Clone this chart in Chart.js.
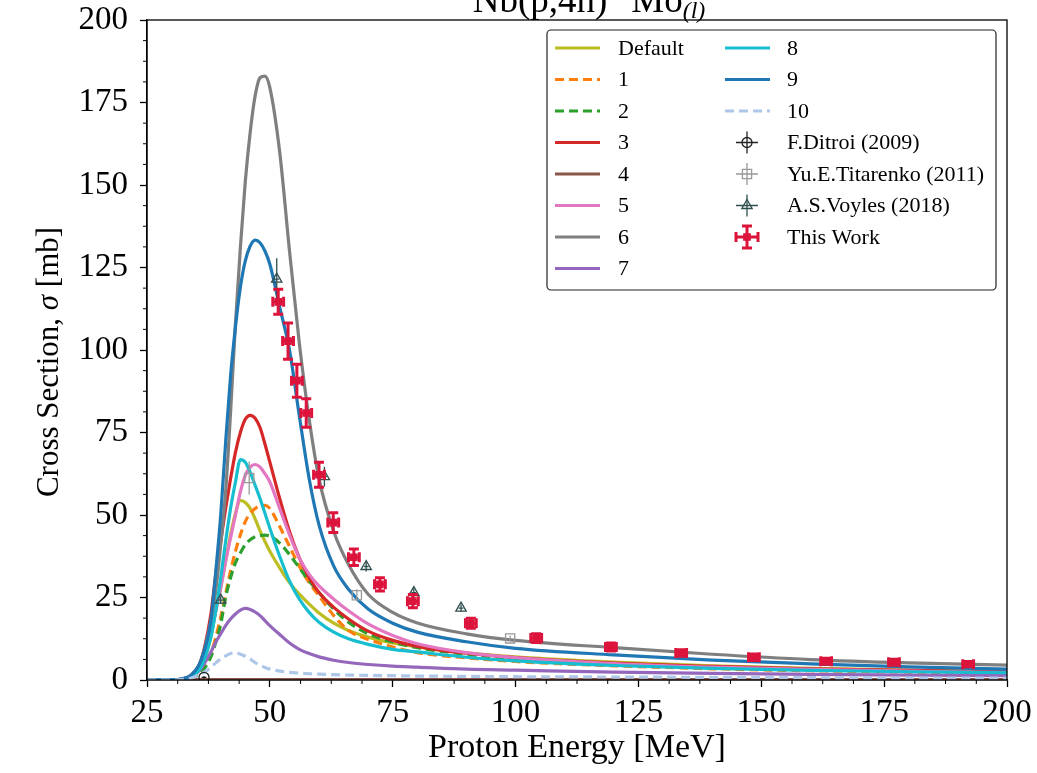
<!DOCTYPE html>
<html lang="en">
<head>
    <meta charset="UTF-8">
    <title>Nb(p,4n)Mo cross section</title>
    <script src="https://cdn.jsdelivr.net/npm/chart.js@4.4.0/dist/chart.umd.min.js"></script>
    <style>
        body { margin: 0; background: #fff; }
        canvas { display: block; }
    </style>
</head>
<body>
    <canvas id="canvas" width="1037" height="773"></canvas>
    <script>
        // energies (MeV) where the model curves are sampled
        const energy = [25, 30, 32, 34, 36, 38, 39, 40, 41, 42, 43, 44, 45, 46, 47, 48, 49, 50, 52, 54, 56, 58, 60, 63, 66, 70, 75, 80, 90, 100, 120, 140, 160, 180, 200];

        // model curves (mb)
        const curveDefault = [0, 0, 0.2, 1, 4, 13, 21, 28, 36, 44, 50.5, 54.4, 53.8, 52, 48.8, 45.2, 42, 39, 34, 29.5, 26, 23, 20.3, 17.2, 15, 13, 11.2, 10, 8.2, 7, 5.4, 4.3, 3.5, 3, 2.6];
        const curve1 = [0, 0, 0.1, 0.6, 2.5, 8, 13, 19, 26, 33, 39, 44, 48, 50.5, 52, 52.8, 52.9, 52, 46.5, 40.5, 34.5, 29.5, 25.5, 19.5, 15, 12.3, 10, 8.3, 6.7, 5.6, 4.3, 3.4, 2.8, 2.4, 2.1];
        const curve2 = [0, 0, 0.1, 0.6, 2.3, 7, 11.5, 17, 25, 31, 35.5, 38.5, 41, 42.5, 43.4, 43.8, 43.9, 43.6, 41.5, 38, 34, 30, 26.5, 21.5, 17.5, 14, 11.5, 9.8, 7.8, 6.5, 5, 3.9, 3.2, 2.7, 2.3];
        const curve3 = [0, 0, 0.3, 1.5, 6, 20, 32, 42, 52, 61, 69, 75, 79, 80.2, 79.3, 76.5, 71.5, 66, 55, 45, 37, 31, 26.5, 22, 18.5, 14.8, 12, 10.2, 8.1, 6.8, 5.1, 4.1, 3.4, 2.9, 2.5];
        const curve4 = [0, 0, 0.1, 0.1, 0.1, 0.1, 0.1, 0.1, 0.1, 0.1, 0.1, 0.1, 0.1, 0.1, 0.1, 0.1, 0.1, 0.1, 0.1, 0.1, 0.1, 0.1, 0.1, 0.1, 0.1, 0.1, 0.1, 0.1, 0.1, 0.1, 0.1, 0.1, 0.1, 0.1, 0.1];
        const curve5 = [0, 0, 0.2, 1, 4, 14, 21, 28, 36, 43, 50, 57, 62, 64.5, 65.3, 64.5, 62.5, 60, 52, 44, 37, 32, 28.5, 24.5, 21, 17, 13.5, 11, 8.3, 6.8, 5, 3.9, 3.2, 2.7, 2.3];
        const curve6 = [0, 0, 0.3, 1.5, 6, 18, 27, 41, 57, 81, 108, 131, 151, 166, 177, 182.5, 183, 179.5, 160, 130, 102, 79, 61, 45, 35, 26, 20.5, 17.3, 14, 12, 9.8, 7.8, 6.2, 5.2, 4.5];
        const curve7 = [0, 0, 0.1, 1, 3.5, 8.5, 11.5, 14, 16.5, 18.5, 20, 21.2, 21.7, 21.4, 20.6, 19.5, 18, 16.5, 13.8, 11.2, 9.3, 8, 7, 6, 5.3, 4.7, 4.2, 3.9, 3.3, 3, 2.4, 2, 1.7, 1.5, 1.3];
        const curve8 = [0, 0, 0.2, 1, 4, 13, 21, 31, 42, 52, 60, 66.8, 66, 63, 59, 55, 50.5, 46, 37.5, 30, 24.5, 20.5, 17.5, 14.5, 12.5, 10.8, 9.3, 8.5, 6.9, 5.8, 4.4, 3.5, 2.9, 2.5, 2.2];
        const curve9 = [0, 0, 0.3, 1.5, 6, 18, 33, 50, 72, 92, 107, 119, 127, 131.5, 133.3, 132.5, 130, 126, 113, 100, 80, 61, 47, 34.5, 27.5, 21.5, 17.2, 14.5, 11.6, 9.6, 7.6, 6, 4.9, 4, 3.3];
        const curve10 = [0, 0, 0.1, 0.6, 1.8, 3.8, 5.2, 6.4, 7.3, 8, 8.3, 7.8, 7.2, 6.3, 5.3, 4.5, 3.8, 3.3, 2.7, 2.3, 2.1, 1.9, 1.8, 1.6, 1.5, 1.4, 1.3, 1.2, 1.1, 1, 0.9, 0.8, 0.7, 0.6, 0.6];

        // experimental points: energy, energy error, cross section, cross section error
        const ditroiE = [36.6];
        const ditroiEErr = [0.5];
        const ditroiXS = [0.8];
        const ditroiErr = [0.4];

        const titarenkoE = [45.8, 67.7, 98.9];
        const titarenkoEErr = [0, 0, 0];
        const titarenkoXS = [61.2, 25.7, 12.6];
        const titarenkoErr = [5, 1.8, 0.9];

        const voylesE = [40.0, 51.4, 61.1, 69.6, 79.3, 88.9];
        const voylesEErr = [0.5, 0.5, 0.5, 0.5, 0.5, 0.5];
        const voylesXS = [24.2, 121.5, 61.6, 34.4, 26.5, 21.8];
        const voylesErr = [1.2, 6.3, 3, 1.5, 1.3, 1.1];

        const thisWorkE = [51.7, 53.7, 55.5, 57.4, 60.0, 62.9, 67.1, 72.4, 79.1, 90.9, 104.2, 119.4, 133.7, 148.5, 163.2, 177.0, 192.1];
        const thisWorkEErr = [1.1, 1.1, 1.1, 1.1, 1.1, 1.1, 1.1, 1.1, 1.1, 1.1, 1.1, 1.1, 1.1, 1.1, 1.1, 1.1, 1.1];
        const thisWorkXS = [114.6, 102.7, 90.7, 80.9, 62.2, 47.7, 37.2, 29.0, 23.9, 17.2, 12.7, 10.0, 8.2, 6.9, 5.7, 5.4, 4.8];
        const thisWorkErr = [3.8, 5.5, 5, 4.3, 3.8, 3, 2.5, 2, 2, 1.5, 1.3, 1.2, 1, 1, 0.9, 0.9, 0.8];

        const curveLabels = ['Default', '1', '2', '3', '4', '5', '6', '7', '8', '9', '10'];
        const curveData = [curveDefault, curve1, curve2, curve3, curve4, curve5, curve6, curve7, curve8, curve9, curve10];
        const curveColors = ['#bcbd22', '#ff7f0e', '#2ca02c', '#d62728', '#8c564b', '#e377c2', '#7f7f7f', '#9467bd', '#17becf', '#1f77b4', '#aec7e8'];
        const dashedCurves = ['1', '2', '10'];

        const SERIF = "'Liberation Serif', 'DejaVu Serif', serif";
        const LINE_W = 3.2;

        function toPoints(xs, ys) {
            return xs.map((x, i) => ({ x: x, y: ys[i] }));
        }

        let datasets = [];
        curveLabels.forEach(function (label, i) {
            datasets.push({
                label: label,
                data: toPoints(energy, curveData[i]),
                borderColor: curveColors[i],
                borderWidth: LINE_W,
                borderDash: dashedCurves.includes(label) ? [9, 5] : [],
                pointRadius: 0,
                fill: false,
                cubicInterpolationMode: 'monotone'
            });
        });

        const expSets = [
            { label: 'F.Ditroi (2009)', xs: ditroiE, xe: ditroiEErr, ys: ditroiXS, ye: ditroiErr, color: '#222222', style: 'circle', radius: 5, cap: 0, lw: 1.3, filled: false },
            { label: 'Yu.E.Titarenko (2011)', xs: titarenkoE, xe: titarenkoEErr, ys: titarenkoXS, ye: titarenkoErr, color: '#999999', style: 'rect', radius: 6.5, cap: 0, lw: 1.3, filled: false },
            { label: 'A.S.Voyles (2018)', xs: voylesE, xe: voylesEErr, ys: voylesXS, ye: voylesErr, color: '#2f4f4f', style: 'triangle', radius: 6, cap: 0, lw: 1.3, filled: false },
            { label: 'This Work', xs: thisWorkE, xe: thisWorkEErr, ys: thisWorkXS, ye: thisWorkErr, color: '#dc143c', style: 'rect', radius: 4.5, cap: 5, lw: 3, filled: true }
        ];
        expSets.forEach(function (s) {
            datasets.push({
                label: s.label,
                data: toPoints(s.xs, s.ys),
                showLine: false,
                borderColor: s.color,
                backgroundColor: s.filled ? s.color : 'rgba(0,0,0,0)',
                pointStyle: s.style,
                pointRadius: s.radius,
                pointBorderWidth: 1.3,
                errInfo: s
            });
        });
        // later datasets drawn on top, like matplotlib
        datasets.forEach((d, i) => d.order = datasets.length - i);

        function isMajor(v) {
            return Math.abs(v / 25 - Math.round(v / 25)) < 1e-6;
        }

        function drawErrBars(ctx, chart, s) {
            let xs = chart.scales.x, ys = chart.scales.y;
            ctx.save();
            ctx.strokeStyle = s.color;
            ctx.lineWidth = s.lw;
            for (let i = 0; i < s.xs.length; i++) {
                let px = xs.getPixelForValue(s.xs[i]);
                let py = ys.getPixelForValue(s.ys[i]);
                let y0 = ys.getPixelForValue(s.ys[i] - s.ye[i]);
                let y1 = ys.getPixelForValue(s.ys[i] + s.ye[i]);
                let x0 = xs.getPixelForValue(s.xs[i] - s.xe[i]);
                let x1 = xs.getPixelForValue(s.xs[i] + s.xe[i]);
                ctx.beginPath();
                ctx.moveTo(px, y0); ctx.lineTo(px, y1);
                ctx.moveTo(x0, py); ctx.lineTo(x1, py);
                if (s.cap > 0) {
                    ctx.moveTo(px - s.cap, y0); ctx.lineTo(px + s.cap, y0);
                    ctx.moveTo(px - s.cap, y1); ctx.lineTo(px + s.cap, y1);
                    ctx.moveTo(x0, py - s.cap); ctx.lineTo(x0, py + s.cap);
                    ctx.moveTo(x1, py - s.cap); ctx.lineTo(x1, py + s.cap);
                }
                ctx.stroke();
            }
            ctx.restore();
        }

        function legendMarker(ctx, s, x, y) {
            ctx.save();
            ctx.strokeStyle = s.color;
            ctx.lineWidth = s.lw;
            let h = 11, c = s.cap;
            ctx.beginPath();
            ctx.moveTo(x, y - h); ctx.lineTo(x, y + h);
            ctx.moveTo(x - h, y); ctx.lineTo(x + h, y);
            if (c > 0) {
                ctx.moveTo(x - c, y - h); ctx.lineTo(x + c, y - h);
                ctx.moveTo(x - c, y + h); ctx.lineTo(x + c, y + h);
                ctx.moveTo(x - h, y - c); ctx.lineTo(x - h, y + c);
                ctx.moveTo(x + h, y - c); ctx.lineTo(x + h, y + c);
            }
            ctx.stroke();
            ctx.fillStyle = s.filled ? s.color : 'rgba(0,0,0,0)';
            ctx.lineWidth = 1.3;
            Chart.helpers.drawPoint(ctx, { pointStyle: s.style, radius: s.radius, rotation: 0, borderWidth: 1.3 }, x, y);
            ctx.restore();
        }

        const overlay = {
            id: 'overlay',
            beforeDatasetDraw(chart, args) {
                let d = chart.data.datasets[args.index];
                if (d.errInfo) {
                    let ctx = chart.ctx, a = chart.chartArea;
                    ctx.save();
                    ctx.beginPath();
                    ctx.rect(a.left, a.top, a.right - a.left, a.bottom - a.top);
                    ctx.clip();
                    drawErrBars(ctx, chart, d.errInfo);
                    ctx.restore();
                }
            },
            afterDraw(chart) {
                let ctx = chart.ctx, a = chart.chartArea;
                let xs = chart.scales.x, ys = chart.scales.y;
                ctx.save();
                // frame
                ctx.strokeStyle = '#000';
                ctx.lineWidth = 1.3;
                ctx.strokeRect(a.left, a.top, a.right - a.left, a.bottom - a.top);
                // minor ticks
                ctx.lineWidth = 1;
                ctx.beginPath();
                for (let v = 25; v <= 200; v += 6.25) {
                    if (isMajor(v)) continue;
                    let p = xs.getPixelForValue(v);
                    ctx.moveTo(p, a.bottom); ctx.lineTo(p, a.bottom + 4);
                }
                for (let v = 0; v <= 200; v += 6.25) {
                    if (isMajor(v)) continue;
                    let p = ys.getPixelForValue(v);
                    ctx.moveTo(a.left, p); ctx.lineTo(a.left - 4, p);
                }
                ctx.stroke();

                // axis titles
                ctx.fillStyle = '#000';
                ctx.textAlign = 'center';
                ctx.textBaseline = 'middle';
                ctx.font = '34px ' + SERIF;
                ctx.fillText('Proton Energy [MeV]', (a.left + a.right) / 2, 748);

                ctx.save();
                ctx.translate(50, 362);
                ctx.rotate(-Math.PI / 2);
                let p1 = 'Cross Section, ', p2 = 'σ', p3 = ' [mb]';
                let fs = '31px ';
                ctx.font = fs + SERIF;
                let w1 = ctx.measureText(p1).width, w3 = ctx.measureText(p3).width;
                ctx.font = 'italic ' + fs + SERIF;
                let w2 = ctx.measureText(p2).width;
                let sx = -(w1 + w2 + w3) / 2;
                ctx.textAlign = 'left';
                ctx.font = fs + SERIF;
                ctx.fillText(p1, sx, 0);
                ctx.font = 'italic ' + fs + SERIF;
                ctx.fillText(p2, sx + w1, 0);
                ctx.font = fs + SERIF;
                ctx.fillText(p3, sx + w1 + w2, 0);
                ctx.restore();

                // title, mostly above the page edge
                let parts = [
                    { t: '93', f: '24px ' + SERIF, dy: -15 },
                    { t: 'Nb(p,4n)', f: '37px ' + SERIF, dy: 0 },
                    { t: '90', f: '24px ' + SERIF, dy: -15 },
                    { t: 'Mo', f: '37px ' + SERIF, dy: 0 },
                    { t: '(l)', f: 'italic 24px ' + SERIF, dy: 6 }
                ];
                let total = 0;
                parts.forEach(p => { ctx.font = p.f; p.w = ctx.measureText(p.t).width; total += p.w; });
                let tx = (a.left + a.right) / 2 - total / 2;
                ctx.textAlign = 'left';
                ctx.textBaseline = 'alphabetic';
                parts.forEach(p => { ctx.font = p.f; ctx.fillText(p.t, tx, 12 + p.dy); tx += p.w; });

                // legend
                let bx = 547, by = 30, bw = 449, bh = 260;
                ctx.fillStyle = 'rgba(255,255,255,0.85)';
                ctx.strokeStyle = '#222';
                ctx.lineWidth = 1.2;
                ctx.beginPath();
                ctx.roundRect(bx, by, bw, bh, 4);
                ctx.fill();
                ctx.stroke();

                let rowH = 31.5, row0 = 48;
                ctx.font = '22px ' + SERIF;
                ctx.textBaseline = 'middle';
                ctx.textAlign = 'left';
                chart.data.datasets.forEach(function (d, i) {
                    let col = i < 8 ? 0 : 1;
                    let row = i < 8 ? i : i - 8;
                    let y = row0 + row * rowH;
                    let lx = col === 0 ? 555 : 725;
                    let tx2 = col === 0 ? 618 : 787;
                    if (d.errInfo) {
                        legendMarker(ctx, d.errInfo, 747, y);
                    } else {
                        ctx.save();
                        ctx.strokeStyle = d.borderColor;
                        ctx.lineWidth = LINE_W;
                        ctx.setLineDash(d.borderDash);
                        ctx.beginPath();
                        ctx.moveTo(lx, y); ctx.lineTo(lx + 45, y);
                        ctx.stroke();
                        ctx.restore();
                    }
                    ctx.fillStyle = '#000';
                    ctx.fillText(d.label, tx2, y + 1);
                });
                ctx.restore();
            }
        };

        let ctx = canvas.getContext('2d');
        let config = {
            type: 'line',
            data: { datasets: datasets },
            options: {
                responsive: false,
                animation: false,
                devicePixelRatio: 1,
                layout: { padding: { top: 20, right: 30, left: 0, bottom: 0 } },
                plugins: {
                    legend: { display: false },
                    tooltip: { enabled: false },
                    title: { display: false }
                },
                scales: {
                    x: {
                        type: 'linear',
                        min: 25,
                        max: 200,
                        afterFit: s => { s.height = 93; s.paddingLeft = 0; s.paddingRight = 0; },
                        grid: {
                            drawOnChartArea: false,
                            tickLength: 7,
                            tickWidth: 1.3,
                            tickColor: c => isMajor(c.tick.value) ? '#000' : 'rgba(0,0,0,0)'
                        },
                        border: { color: '#000', width: 1.3 },
                        ticks: {
                            stepSize: 6.25,
                            autoSkip: false,
                            maxRotation: 0,
                            padding: 7,
                            color: '#000',
                            font: { family: SERIF, size: 33 },
                            callback: v => isMajor(v) ? String(Math.round(v)) : ''
                        }
                    },
                    y: {
                        type: 'linear',
                        min: 0,
                        max: 200,
                        afterFit: s => { s.width = 147; s.paddingTop = 0; s.paddingBottom = 0; },
                        grid: {
                            drawOnChartArea: false,
                            tickLength: 7,
                            tickWidth: 1.3,
                            tickColor: c => isMajor(c.tick.value) ? '#000' : 'rgba(0,0,0,0)'
                        },
                        border: { color: '#000', width: 1.3 },
                        ticks: {
                            stepSize: 6.25,
                            autoSkip: false,
                            padding: 12,
                            color: '#000',
                            font: { family: SERIF, size: 33 },
                            callback: v => isMajor(v) ? String(Math.round(v)) : ''
                        }
                    }
                }
            },
            plugins: [overlay]
        };

        let chart = new Chart(ctx, config);
    </script>
</body>
</html>
